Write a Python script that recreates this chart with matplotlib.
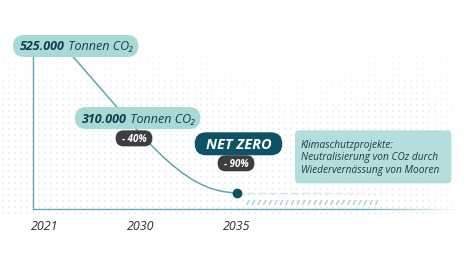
import numpy as np
import matplotlib
matplotlib.use('Agg')
import matplotlib.pyplot as plt
from matplotlib.path import Path
from matplotlib.patches import PathPatch, FancyBboxPatch
from matplotlib.collections import LineCollection
from matplotlib.transforms import Bbox

# data
years = ['2021', '2030', '2035']
emissions = [525000, 310000, 52500]
amount_labels = ['525.000', '310.000']
unit_label = ' Tonnen CO\u2082'
reduction_labels = ['- 40%', '- 90%']
target_label = 'NET ZERO'
note_lines = ['Klimaschutzprojekte:',
              'Neutralisierung von COz durch',
              'Wiedervernässung von Mooren']

FONT = ['Open Sans', 'DejaVu Sans']
TEAL_LIGHT = '#a9d9d5'
TEAL_DARK = '#0e5266'
TEAL_LINE = '#5fa8ad'
GREY_DARK = '#3c3d3f'
TEXT_DARK = '#0f3f4d'

W, H = 474, 266
PX = 0.72  # points per pixel at dpi 100

fig = plt.figure(figsize=(W / 100, H / 100), dpi=100)

# halftone background
bg = fig.add_axes([0, 0, 1, 1])
bg.set_xlim(0, W)
bg.set_ylim(H, 0)
bg.axis('off')
gx, gy = np.meshgrid(np.arange(3, W, 6), np.arange(3, 214, 6))
top = 38 + 30 * np.exp(-((gx - 290) / 70.0) ** 2)
alpha = np.clip((gy - top) / 60.0, 0, 1) * np.clip((W - gx) / 50.0, 0, 1) * 0.55
bg.scatter(gx.ravel(), gy.ravel(), s=2.6, marker='s', c='#e3e7ee',
           alpha=alpha.ravel(), linewidths=0)

# main axes: category index on x, tonnes on y
ax = fig.add_axes([0, 0, 1, 1], zorder=1)
ax.patch.set_alpha(0)
x_px0, px_per_cat = 45, 96.0
base_px, px_per_val = 209, 162.0 / emissions[0]
ax.set_xlim(-x_px0 / px_per_cat, (W - x_px0) / px_per_cat)
ax.set_ylim(-(H - base_px) / px_per_val, base_px / px_per_val)
ax.axis('off')

# axes lines
x_axis = -12 / px_per_cat
ax.plot([x_axis, x_axis], [0, 0.98 * emissions[0]], color=TEAL_LINE, lw=1.0, zorder=2)
xs = np.linspace(x_axis, 4.3, 120)
segs = [[(xs[i], 0), (xs[i + 1], 0)] for i in range(len(xs) - 1)]
fade = np.clip((4.3 - xs[:-1]) / 1.0, 0, 1)
cols = [matplotlib.colors.to_rgba(TEAL_LINE, a) for a in fade]
ax.add_collection(LineCollection(segs, colors=cols, lw=1.0, zorder=2))

# reduction curve
verts = [(0.2, emissions[0]), (1.0, 250000), (1.4, emissions[2]), (2, emissions[2])]
curve = Path(verts, [Path.MOVETO, Path.CURVE4, Path.CURVE4, Path.CURVE4])
ax.add_patch(PathPatch(curve, fc='none', ec=TEAL_LINE, lw=1.1, zorder=2))
ax.plot(2, emissions[2], 'o', color=TEAL_DARK, ms=6, zorder=4)

# dotted continuation and hatch
dx = np.arange(2.08, 3.7, 2.2 / px_per_cat)
dsegs = [[(x, emissions[2]), (x + 0.8 / px_per_cat, emissions[2])] for x in dx]
dfade = np.clip((3.7 - dx) / 0.9, 0, 1)
ax.add_collection(LineCollection(dsegs, colors=[matplotlib.colors.to_rgba('#b3c9cf', a) for a in dfade],
                                 lw=1.0, zorder=2))
hx = np.arange(2.1, 3.45, 5.6 / px_per_cat)
hsegs = [[(x, 4 / px_per_val), (x + 2.5 / px_per_cat, 9 / px_per_val)] for x in hx]
ax.add_collection(LineCollection(hsegs, colors='#a6d4d1', lw=1.0, zorder=2))

# years
for i, y in enumerate(years):
    ax.annotate(y, (i, 0), xytext=(0, -18 * PX), textcoords='offset points',
                ha='center', va='center', fontsize=9, style='italic',
                color='#2f2f2f', family=FONT)


def box(texts, color, height, padl, padr, radius=None, z=3):
    fig.canvas.draw()
    r = fig.canvas.get_renderer()
    bb = Bbox.union([t.get_window_extent(r) for t in texts])
    cy = (bb.y0 + bb.y1) / 2 + 1
    if radius is None:
        radius = height / 2
    p = FancyBboxPatch((bb.x0 - padl, cy - height / 2), bb.width + padl + padr, height,
                       boxstyle='round,pad=0,rounding_size=%f' % radius,
                       transform=None, fc=color, ec='none', zorder=z)
    ax.add_artist(p)


# amount labels
offsets = [(-25, 0), (-59, -5.7)]
for i in range(2):
    t1 = ax.annotate(amount_labels[i], (i, emissions[i]),
                     xytext=(offsets[i][0] * PX, offsets[i][1] * PX), textcoords='offset points',
                     ha='left', va='center', fontsize=9, weight='bold', style='italic',
                     color=TEXT_DARK, family=FONT, zorder=5)
    t2 = ax.annotate(unit_label, (1, 0), xycoords=t1, ha='left', va='bottom',
                     fontsize=9, style='italic', color=TEXT_DARK, family=FONT, zorder=5)
    box([t1, t2], TEAL_LIGHT, 22, 7, 5)

# net zero
tz = ax.annotate(target_label, (2, emissions[2]), xytext=(1.5 * PX, 48 * PX),
                 textcoords='offset points', ha='center', va='center', fontsize=10.5,
                 weight='bold', style='italic', color='white', family=FONT, zorder=5)
box([tz], TEAL_DARK, 23, 11, 11)

# reduction pills
red_pos = [(1, emissions[1], -7, -26), (2, emissions[2], -1, 28.5)]
for lab, (xi, yv, ox, oy) in zip(reduction_labels, red_pos):
    t = ax.annotate(lab, (xi, yv), xytext=(ox * PX, oy * PX), textcoords='offset points',
                    ha='center', va='center', fontsize=7, weight='bold', style='italic',
                    color='white', family=FONT, zorder=5)
    box([t], GREY_DARK, 16, 6, 6)

# note box
note = ax.annotate('\n'.join(note_lines), (2, emissions[2]), xytext=(64 * PX, 35 * PX),
                   textcoords='offset points', ha='left', va='center', fontsize=7.3,
                   style='italic', color='#1e3a44', family=FONT, linespacing=1.15, zorder=5)
box([note], '#b4dedb', 53, 6, 12, radius=4)

fig.savefig('out.png', dpi=100)
